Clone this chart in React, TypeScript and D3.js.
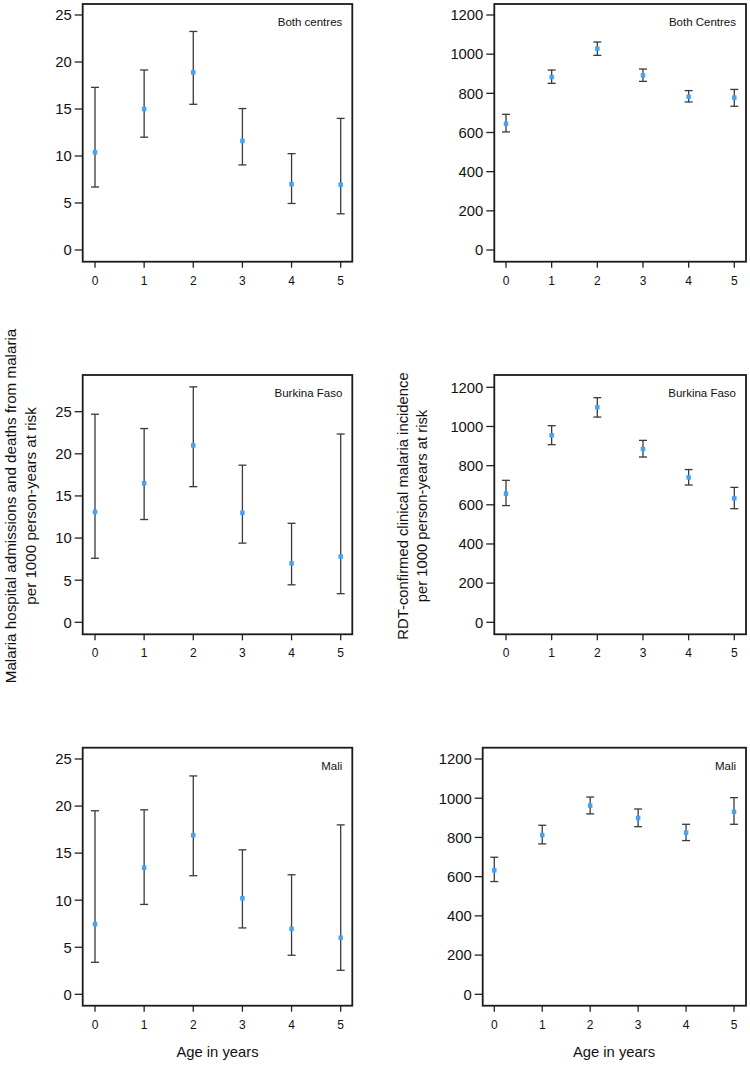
import React from "react";
import * as d3 from "d3";

// ---- data ----
const ages = [0, 1, 2, 3, 4, 5];

const hospTicks = [0, 5, 10, 15, 20, 25];
const incTicks = [0, 200, 400, 600, 800, 1000, 1200];

// Hospital admissions & deaths (per 1000 PY)
const hospBothEst = [10.4, 15.0, 18.9, 11.6, 7.0, 6.95];
const hospBothLo = [6.7, 12.0, 15.5, 9.05, 4.95, 3.85];
const hospBothHi = [17.3, 19.15, 23.25, 15.05, 10.25, 14.0];

const hospBfEst = [13.1, 16.5, 21.0, 13.0, 7.0, 7.8];
const hospBfLo = [7.6, 12.2, 16.1, 9.4, 4.45, 3.4];
const hospBfHi = [24.7, 23.0, 27.95, 18.65, 11.75, 22.35];

const hospMaliEst = [7.45, 13.45, 16.9, 10.2, 6.95, 6.0];
const hospMaliLo = [3.4, 9.55, 12.6, 7.05, 4.15, 2.55];
const hospMaliHi = [19.5, 19.6, 23.2, 15.35, 12.7, 18.0];

// RDT-confirmed clinical malaria incidence (per 1000 PY)
const incBothEst = [645, 883, 1028, 892, 783, 778];
const incBothLo = [603, 851, 994, 861, 756, 734];
const incBothHi = [693, 919, 1062, 924, 814, 820];

const incBfEst = [657, 955, 1098, 885, 740, 633];
const incBfLo = [596, 907, 1048, 844, 701, 580];
const incBfHi = [725, 1004, 1147, 929, 780, 689];

const incMaliEst = [632, 812, 962, 899, 824, 931];
const incMaliLo = [575, 767, 920, 855, 784, 867];
const incMaliHi = [699, 862, 1006, 945, 867, 1003];

// ---- layout ----
type Panel = {
  title: string;
  est: number[];
  lo: number[];
  hi: number[];
  ticks: number[];
  box: [number, number, number, number]; // left, right, top, bottom
  yRange: [number, number]; // pixel of 0, pixel of max tick
  xRange: [number, number];
};

const panels: Panel[] = [
  { title: "Both centres", est: hospBothEst, lo: hospBothLo, hi: hospBothHi, ticks: hospTicks,
    box: [82.7, 352.3, 4, 261.7], yRange: [250, 15], xRange: [95, 340.7] },
  { title: "Both Centres", est: incBothEst, lo: incBothLo, hi: incBothHi, ticks: incTicks,
    box: [494.3, 746, 4, 261.7], yRange: [250, 15], xRange: [506, 734.3] },
  { title: "Burkina Faso", est: hospBfEst, lo: hospBfLo, hi: hospBfHi, ticks: hospTicks,
    box: [82.7, 352.3, 375, 634.3], yRange: [622.3, 411.7], xRange: [95, 340.7] },
  { title: "Burkina Faso", est: incBfEst, lo: incBfLo, hi: incBfHi, ticks: incTicks,
    box: [494.3, 746, 375, 634.3], yRange: [622.3, 387.3], xRange: [506, 734.3] },
  { title: "Mali", est: hospMaliEst, lo: hospMaliLo, hi: hospMaliHi, ticks: hospTicks,
    box: [82.7, 352.3, 747.7, 1005.7], yRange: [994.3, 759], xRange: [95, 340.7] },
  { title: "Mali", est: incMaliEst, lo: incMaliLo, hi: incMaliHi, ticks: incTicks,
    box: [482.7, 746, 747.7, 1005.7], yRange: [994.3, 759], xRange: [494.3, 734] },
];

const FONT = "'Liberation Sans', Arial, sans-serif";
const POINT = "#45a2f6";
const BAR = "#3a3a3a";

function PanelView({ p }: { p: Panel }) {
  const [l, r, t, b] = p.box;
  const maxTick = p.ticks[p.ticks.length - 1];
  const y = d3.scaleLinear().domain([0, maxTick]).range(p.yRange);
  const x = d3.scaleLinear().domain([0, 5]).range(p.xRange);
  const cap = 4;
  const ms = 4.5;
  return (
    <g>
      {/* y ticks */}
      {p.ticks.map((tk) => (
        <g key={"y" + tk}>
          <line x1={l - 8} x2={l} y1={y(tk)} y2={y(tk)} stroke="#222" strokeWidth={1.3} />
          <text x={l - 11} y={y(tk)} dy="0.36em" textAnchor="end" fontSize={14.8} fontFamily={FONT} fill="#111">
            {tk}
          </text>
        </g>
      ))}
      {/* x ticks */}
      {ages.map((a) => (
        <g key={"x" + a}>
          <line x1={x(a)} x2={x(a)} y1={b} y2={b + 6} stroke="#222" strokeWidth={1.3} />
          <text x={x(a)} y={b + 23} textAnchor="middle" fontSize={12} fontFamily={FONT} fill="#111">
            {a}
          </text>
        </g>
      ))}
      {/* error bars */}
      {ages.map((a, i) => (
        <g key={"e" + a} stroke={BAR} strokeWidth={1.3}>
          <line x1={x(a)} x2={x(a)} y1={y(p.lo[i])} y2={y(p.hi[i])} />
          <line x1={x(a) - cap} x2={x(a) + cap} y1={y(p.lo[i])} y2={y(p.lo[i])} />
          <line x1={x(a) - cap} x2={x(a) + cap} y1={y(p.hi[i])} y2={y(p.hi[i])} />
        </g>
      ))}
      {/* points */}
      {ages.map((a, i) => (
        <rect key={"p" + a} x={x(a) - ms / 2} y={y(p.est[i]) - ms / 2} width={ms} height={ms} fill={POINT} />
      ))}
      {/* frame */}
      <rect x={l} y={t} width={r - l} height={b - t} fill="none" stroke="#1a1a1a" strokeWidth={1.8} />
      {/* title */}
      <text x={r - 10} y={t + 22} textAnchor="end" fontSize={11.5} fontFamily={FONT} fill="#111">
        {p.title}
      </text>
    </g>
  );
}

export default function App() {
  return (
    <svg
      width={750}
      height={1065}
      viewBox="0 0 750 1065"
      style={{ position: "absolute", left: 0, top: 0, background: "#fff" }}
    >
      <rect x={0} y={0} width={750} height={1065} fill="#fff" />
      {panels.map((p, i) => (
        <PanelView key={i} p={p} />
      ))}
      {/* y axis labels */}
      <g transform="translate(11,506) rotate(-90)">
        <text textAnchor="middle" dy="0.36em" fontSize={15.2} fontFamily={FONT} fill="#111">
          Malaria hospital admissions and deaths from malaria
        </text>
        <text y={19.5} textAnchor="middle" dy="0.36em" fontSize={15.2} fontFamily={FONT} fill="#111">
          per 1000 person-years at risk
        </text>
      </g>
      <g transform="translate(403,506) rotate(-90)">
        <text textAnchor="middle" dy="0.36em" fontSize={14.8} fontFamily={FONT} fill="#111">
          RDT-confirmed clinical malaria incidence
        </text>
        <text y={18.5} textAnchor="middle" dy="0.36em" fontSize={14.8} fontFamily={FONT} fill="#111">
          per 1000 person-years at risk
        </text>
      </g>
      {/* x axis titles */}
      <text x={217.5} y={1057} textAnchor="middle" fontSize={14.8} fontFamily={FONT} fill="#111">
        Age in years
      </text>
      <text x={614} y={1057} textAnchor="middle" fontSize={14.8} fontFamily={FONT} fill="#111">
        Age in years
      </text>
    </svg>
  );
}
